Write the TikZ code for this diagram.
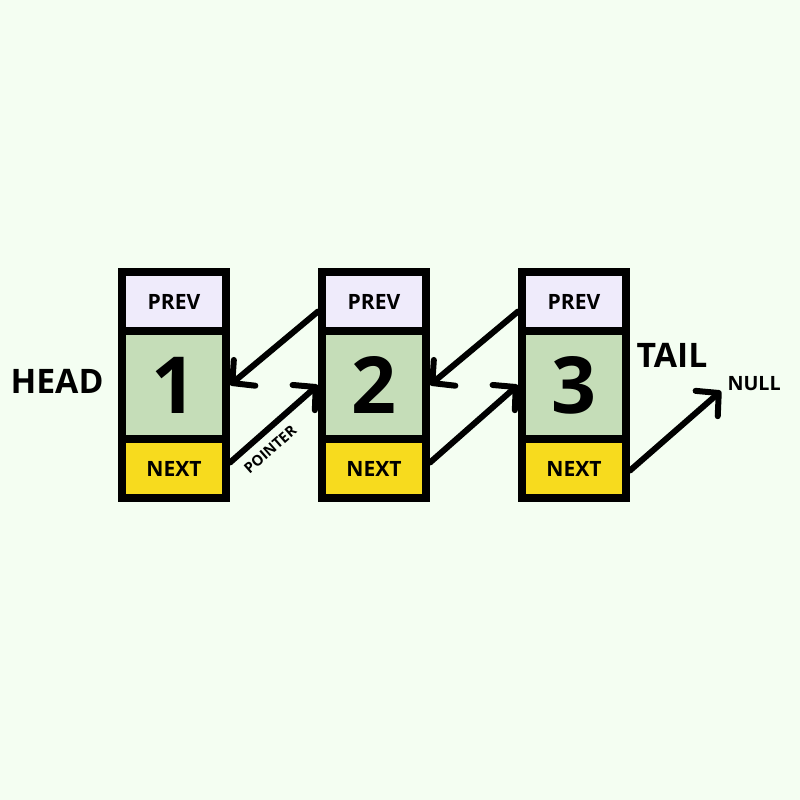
\documentclass[tikz,border=0pt]{standalone}
\usepackage{fontspec}
\setmainfont{Open Sans}
\usepackage{xcolor}
\usetikzlibrary{arrows.meta,positioning,calc}

\definecolor{bgcol}{HTML}{F4FEF2}
\definecolor{prevcol}{HTML}{EFEBFB}
\definecolor{datacol}{HTML}{C5DDB8}
\definecolor{nextcol}{HTML}{F7DB1E}

\begin{document}
\begin{tikzpicture}[x=0.0125cm, y=-0.0125cm,
  cell/.style={rectangle, draw, line width=0.1cm, minimum width=1.3cm, inner sep=0pt, align=center},
  prevcell/.style={cell, fill=prevcol, minimum height=0.7375cm, font=\fontsize{7.5}{9}\selectfont\bfseries},
  datacell/.style={cell, fill=datacol, minimum height=1.35cm, font=\fontsize{28}{30}\selectfont\bfseries},
  nextcell/.style={cell, fill=nextcol, minimum height=0.7375cm, font=\fontsize{7.5}{9}\selectfont\bfseries},
  label/.style={font=\bfseries, inner sep=0pt},
  arrow/.style={-{Straight Barb[round, length=0.2cm, width=0.42cm]}, line width=0.075cm, line cap=round}]

  % Background
  \fill[bgcol] (0,0) rectangle (800,800);
  \useasboundingbox (0,0) rectangle (800,800);

  % Node 1
  \node[prevcell] (p1) at (174,301.5) {PREV};
  \node[datacell] (d1) at (174,385) {1};
  \node[nextcell] (n1) at (174,468.5) {NEXT};

  % Node 2
  \node[prevcell] (p2) at (374,301.5) {PREV};
  \node[datacell] (d2) at (374,385) {2};
  \node[nextcell] (n2) at (374,468.5) {NEXT};

  % Node 3
  \node[prevcell] (p3) at (574,301.5) {PREV};
  \node[datacell] (d3) at (574,385) {3};
  \node[nextcell] (n3) at (574,468.5) {NEXT};

  % Labels
  \node[label, font=\fontsize{12}{14}\selectfont\bfseries] (head) at (57,381) {HEAD};
  \node[label, font=\fontsize{12}{14}\selectfont\bfseries] (tail) at (672,355) {TAIL};
  \node[label, font=\fontsize{7}{8}\selectfont\bfseries, anchor=west] (null) at (727,384) {NULL};
  \coordinate (nulltip) at (721,391);

  % Arrows: prev pointers
  \draw[arrow] ($(p2.west)+(0,10)$) -- (d1.east);
  \draw[arrow] ($(p3.west)+(0,10)$) -- (d2.east);

  % Arrows: next pointers
  \draw[arrow] ($(n1.east)+(0,-6)$) -- (d2.west)
    node[pos=0.33, below=3pt, sloped, inner sep=0pt, font=\fontsize{5.2}{6}\selectfont\bfseries] {POINTER};
  \draw[arrow] ($(n2.east)+(0,-6)$) -- (d3.west);
  \draw[arrow] ($(n3.east)+(0,2)$) -- (nulltip);

\end{tikzpicture}
\end{document}
